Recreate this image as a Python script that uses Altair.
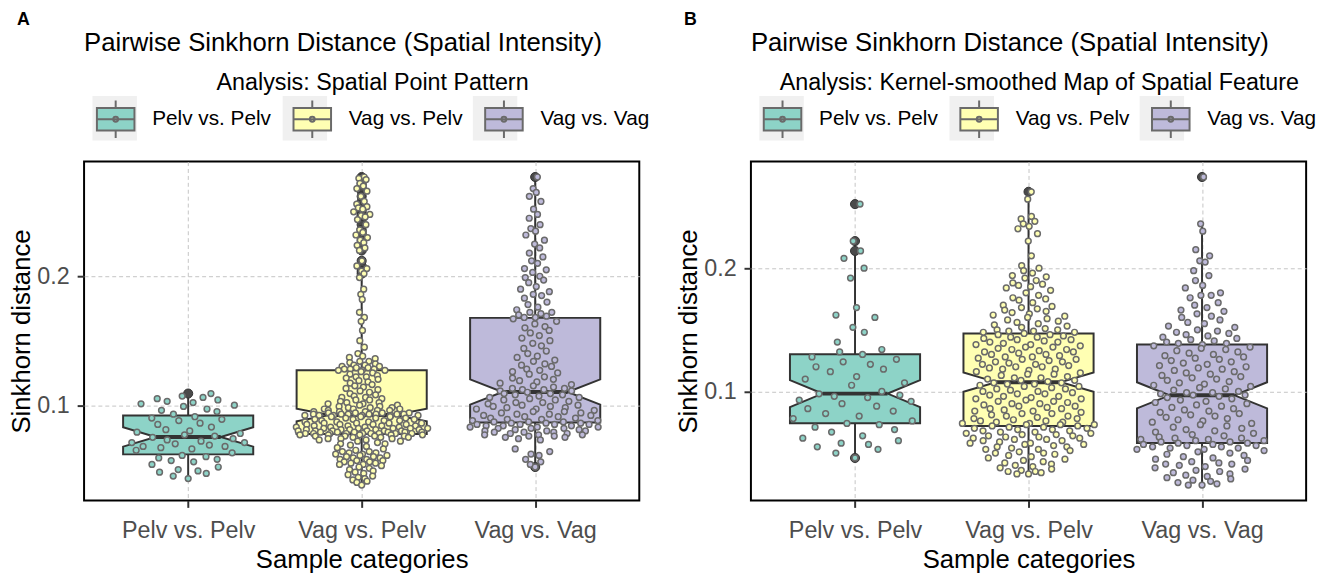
import numpy as np
import pandas as pd
import altair as alt

CATEGORIES = ["Pelv vs. Pelv", "Vag vs. Pelv", "Vag vs. Vag"]
FILLS = ["#8dd3c7", "#ffffb3", "#bebada"]
KEY_BG = "#f0f0f0"
PANEL_TAGS = ["A", "B"]
PANEL_TITLE = "Pairwise Sinkhorn Distance (Spatial Intensity)"
PANEL_SUBTITLES = ["Analysis: Spatial Point Pattern",
                   "Analysis: Kernel-smoothed Map of Spatial Feature"]
X_TITLE = "Sample categories"
Y_TITLE = "Sinkhorn distance"
Y_TICKS = [0.1, 0.2]

# ---- pairwise Sinkhorn distances (in thousandths) ----
A_PELV_PELV = [109, 107, 106, 105, 104, 103, 102, 101, 100, 99, 97, 96, 95, 93,
               91, 90, 89, 88, 86, 85, 83, 81, 80, 79, 78, 77, 76, 75,
               74, 73, 72, 71, 71, 70, 69, 68, 68, 67, 66, 65, 63,
               61, 60, 59, 58, 57, 56, 54, 52, 50, 49, 48, 47, 45, 43]
A_VAG_PELV = [277, 276, 275, 272, 270, 268, 266, 262, 258, 256, 254, 253, 252, 250, 248, 247,
              246, 244, 240, 236, 234, 232, 230, 228, 226, 224, 222, 220, 212, 208, 206, 204, 202,
              199, 190, 186, 182, 172, 168, 165, 158, 150, 145, 140, 138, 136, 134, 137, 134,
              133, 132, 131, 131, 130, 130, 129, 129, 128, 128, 128, 127, 127, 127,
              126, 125, 124, 123, 122, 122, 121, 120, 119, 118, 117, 116, 115, 114, 113, 112,
              111, 110, 109, 108, 107, 106, 106, 105, 104, 104, 103, 102, 102, 101, 101, 100,
              100, 99, 99, 98, 98, 98, 97, 97, 97, 96, 96, 96, 95, 95, 95, 94, 94, 94, 94, 93,
              93, 93, 93, 93, 93, 93, 92, 92, 92, 92, 92,
              92, 91, 91, 91, 90, 90, 90, 89, 89, 89, 88, 88, 88, 87, 87, 87, 86, 86, 86, 86,
              85, 85, 85, 85, 84, 84, 84, 84, 83, 83, 83, 83, 82, 82, 82, 82, 82, 81, 81, 81,
              81, 81, 80, 80, 80, 80, 80, 80, 79, 79, 79, 79, 79, 79, 78, 78, 78, 78, 78, 78,
              78, 78, 78,
              77, 77, 77, 77, 77, 76, 76, 76, 76, 75, 75, 75, 74, 74, 74, 73, 73, 72, 72, 71,
              70, 70, 69, 68, 67, 66, 65, 64, 64, 63, 63, 62, 62, 61, 61, 60, 60, 59, 59, 58,
              58, 57, 57, 56, 56, 55, 55, 54, 54, 53, 52, 51, 50, 49, 48, 47, 46, 45, 44, 43,
              42, 41, 40, 38]
A_VAG_VAG = [277, 268, 265, 262, 258, 252, 248, 245, 240, 237, 235, 232, 228, 225, 222, 218,
             215, 212, 210, 206, 205, 203, 200, 199, 197, 195, 192, 190, 188, 186, 185, 183,
             180, 178, 176, 174, 172, 172, 171, 170, 169, 168, 168,
             167, 165, 163, 161, 160, 158, 156, 154, 152, 150, 148, 146, 144, 142, 140, 138,
             137, 135, 134, 132, 131, 130, 128, 127, 126, 125, 124, 122, 121, 120, 119, 118,
             117, 116, 115, 114, 113, 113, 112, 112, 111, 111, 110,
             109, 109, 108, 108, 107, 106, 106, 105, 104, 104, 103, 102, 102, 101, 100, 100,
             99, 99, 98, 98, 97, 97, 96, 95, 95, 94, 94, 93, 93, 92, 92, 91, 91, 90, 90, 89,
             89, 88, 88, 87, 87, 87,
             86, 86, 86, 85, 85, 85, 85, 84, 84, 84, 83, 83, 83, 82, 82, 82, 81, 81, 80, 80,
             80, 79, 79, 79, 78, 78, 77, 77, 77, 76, 76, 75, 75, 74, 73, 66, 64, 62, 61, 58,
             56, 54, 52]
B_PELV_PELV = [252, 222, 214, 208, 200, 192, 168, 162, 160, 152, 148, 140, 134, 132,
               130, 128, 126, 124, 122, 120, 118, 116, 112, 110, 107, 105, 100, 98,
               97, 96, 95, 93, 92, 90, 88, 86, 84, 82, 80, 78, 76,
               74, 73, 71, 69, 67, 64, 62, 60, 58, 57, 55, 53, 50, 46]
B_VAG_PELV = [262, 256, 242, 240, 238, 236, 234, 232, 228, 222, 210, 202, 200, 198, 196, 194,
              193, 192, 190, 188, 187, 186, 185, 184, 182, 180, 178, 176, 175, 174, 172, 170,
              169, 168, 167, 166, 165, 164, 163, 162, 161, 160, 159, 158, 157, 156, 155, 154,
              153, 152, 151, 150, 150, 149, 149, 148, 148, 147,
              146, 146, 145, 144, 144, 143, 142, 142, 141, 140, 140, 139, 138, 138, 137, 136,
              136, 135, 134, 134, 133, 132, 132, 131, 130, 130, 129, 128, 128, 127, 126, 126,
              125, 124, 124, 123, 122, 122, 121, 120, 120, 119, 118, 118, 117, 116, 115, 114,
              114, 113, 112, 111, 111, 110, 109, 109, 108, 107,
              107, 106, 106, 105, 104, 104, 103, 102, 102, 101, 100, 100, 99, 98, 98, 97, 96,
              96, 95, 94, 94, 93, 92, 92, 91, 90, 90, 89, 88, 88, 87, 86, 86, 85, 84, 84, 83,
              82, 82, 81, 80, 80, 79, 78, 78, 77, 76, 76, 75, 75, 74, 74, 73, 73, 73, 72, 72,
              71, 71, 70, 70, 69, 69, 68, 68, 67, 67, 66, 66, 65, 65, 64, 64, 63, 63, 62, 62,
              61, 61, 60, 60, 59, 58, 58, 57, 57, 56, 55, 55, 54, 53, 53, 52, 51, 50, 50, 49,
              48, 47, 46, 45, 44, 43, 42, 41, 40, 39, 38, 37, 36, 35, 35, 34, 33, 33]
B_VAG_VAG = [274, 236, 230, 215, 210, 206, 205, 198, 194, 190, 186, 184, 180, 178, 178, 176,
             172, 170, 168, 166, 165, 163, 161, 160, 158, 156, 155, 153, 152, 150, 149, 148,
             147, 146, 145, 144, 143, 142, 141, 140, 139, 139, 138,
             137, 136, 135, 134, 133, 132, 131, 130, 129, 128, 127, 126, 125, 124, 123, 122,
             121, 120, 119, 118, 117, 116, 115, 114, 113, 112, 111, 110, 109, 108, 107, 106,
             105, 104, 103, 102, 101, 100, 99, 99, 98, 97, 97,
             96, 95, 94, 93, 92, 91, 90, 89, 88, 87, 86, 85, 84, 83, 82, 81, 80, 79, 78, 77,
             76, 75, 74, 73, 72, 71, 70, 69, 68, 67, 66, 65, 64, 63, 62, 62, 61, 61, 60, 60,
             59, 59,
             58, 58, 57, 57, 56, 56, 55, 55, 54, 54, 53, 53, 52, 51, 50, 49, 48, 47, 46, 45,
             44, 43, 42, 41, 41, 40, 39, 38, 37, 36, 35, 34, 33, 32, 31, 30, 29, 28, 27, 26,
             25, 24, 24]

# ---- notched box statistics ----
A_Q1 = [0.0618, 0.0776, 0.0866]
A_MED = [0.0753, 0.0924, 0.1102]
A_Q3 = [0.0919, 0.1270, 0.1677]
A_LO = [0.0427, 0.0377, 0.0522]
A_HI = [0.1082, 0.1990, 0.2769]
A_NOTCH = [0.0075, 0.0049, 0.0098]
B_Q1 = [0.0742, 0.0720, 0.0582]
B_MED = [0.0982, 0.1075, 0.0968]
B_Q3 = [0.1302, 0.1470, 0.1380]
B_LO = [0.0462, 0.0328, 0.0235]
B_HI = [0.2136, 0.2560, 0.2360]
B_NOTCH = [0.0110, 0.0078, 0.0106]

DARK = "#333333"
FONT = "Liberation Sans"
BOX_HALF = 0.375
NOTCH_INSET = 0.5 * BOX_HALF
PW, PH = 562, 343
KEY_W, BG_W = 38, 45
LEG_X, LEG_Y = 12, -91
LEG_TITLE_SIZE, LEG_TITLE_PAD = 23.6, 4.5
BG_STEP = 192.5  # horizontal distance between key backgrounds

KEY_PATH = ("M-1,-0.6H1V0.6H-1Z M0,-0.6V-1 M0,0.6V1 M-1,0H1 "
            "M0.13,0A0.13,0.13 0 1 1 -0.13,0A0.13,0.13 0 1 1 0.13,0")


def vdc(k):
    v, d = 0.0, 1.0
    while k:
        k, r = divmod(k, 2)
        d *= 2
        v += r / d
    return v


def quasirandom(vals, width=0.4, adjust=0.5):
    """Deterministic quasirandom (van der Corput) offsets scaled by a KDE."""
    y = np.asarray(vals, float)
    n = len(y)
    sd = y.std(ddof=1)
    q75, q25 = np.percentile(y, [75, 25])
    bw = 0.9 * min(sd, (q75 - q25) / 1.34) * n ** -0.2 * adjust
    grid = np.linspace(y.min() - 3 * bw, y.max() + 3 * bw, 512)

    def dens(t):
        return np.exp(-0.5 * ((t[:, None] - y[None, :]) / bw) ** 2).sum(1)

    d = dens(y) / dens(grid).max()
    rank = np.argsort(np.argsort(y, kind="stable"), kind="stable")
    seq = np.array([vdc(k + 1) for k in range(n)])
    return (seq[rank] * 2 - 1) * width * d


def panel(tag, subtitle, groups, stats):
    q1, med, q3, lo, hi, notch = stats
    allv = [v / 1000 for g in groups for v in g]
    vmin, vmax = min(allv), max(allv)
    pad = 0.05 * (vmax - vmin)
    ydom = [vmin - pad, vmax + pad]

    pts, outs, area, meds, whisk = [], [], [], [], []
    for i, (cat, g) in enumerate(zip(CATEGORIES, groups)):
        c = i + 1
        v = np.array(g, float) / 1000
        off = quasirandom(v)
        for vv, oo in zip(v, off):
            pts.append(dict(cat=cat, col=FILLS[i], xp=c + oo, v=vv))
            if vv > hi[i] + 1e-9 or vv < lo[i] - 1e-9:
                outs.append(dict(cat=cat, xo=c, v=vv))
        L, R = c - BOX_HALF, c + BOX_HALF
        ys = [q1[i], med[i] - notch[i], med[i], med[i] + notch[i], q3[i]]
        ls = [L, L, L + NOTCH_INSET, L, L]
        rs = [R, R, R - NOTCH_INSET, R, R]
        for yy, ll, rr in zip(ys, ls, rs):
            area.append(dict(cat=cat, yv=yy, l=ll, r=rr))
        meds.append(dict(cat=cat, m1=L + NOTCH_INSET, m2=R - NOTCH_INSET, my=med[i]))
        whisk.append(dict(cat=cat, wx=c, w1=q3[i], w2=hi[i]))
        whisk.append(dict(cat=cat, wx=c, w1=lo[i], w2=q1[i]))

    xs = alt.Scale(domain=[0.4, 3.6], nice=False, zero=False)
    ysc = alt.Scale(domain=ydom, nice=False, zero=False)
    expr = " : ".join(f"datum.value == {i + 1} ? '{c}'" for i, c in enumerate(CATEGORIES)) + " : ''"
    xaxis = alt.Axis(values=[1, 2, 3], labelExpr=expr, title=X_TITLE, grid=True,
                     gridDash=[4, 3], gridColor="#c4c4c4", gridWidth=1, domain=False,
                     tickColor=DARK, tickWidth=2, tickSize=7, labelFontSize=23.6,
                     labelColor="#4d4d4d", labelPadding=11, titleFontSize=26,
                     titleFontWeight="normal", titleColor="black", titlePadding=5,
                     labelFont=FONT, titleFont=FONT)
    yaxis = alt.Axis(values=Y_TICKS, format=".1f", title=Y_TITLE, grid=True,
                     gridDash=[4, 3], gridColor="#c4c4c4", gridWidth=1, domain=False,
                     tickColor=DARK, tickWidth=2, tickSize=7, labelFontSize=23.6,
                     labelColor="#4d4d4d", labelPadding=8, titleFontSize=26,
                     titleFontWeight="normal", titleColor="black", titlePadding=2,
                     labelFont=FONT, titleFont=FONT)

    legend = alt.Legend(title=subtitle, orient="none", legendX=LEG_X, legendY=LEG_Y,
                        direction="horizontal", titleAnchor="middle", titleOrient="top",
                        titleFontSize=LEG_TITLE_SIZE, titleFontWeight="normal",
                        titleFont=FONT, titlePadding=LEG_TITLE_PAD, titleColor="black",
                        titleLimit=1000, labelLimit=400, labelFont=FONT, labelFontSize=21,
                        labelColor="black", labelOffset=17, columnPadding=18,
                        symbolType=KEY_PATH, symbolSize=KEY_W * KEY_W,
                        symbolStrokeColor=DARK, symbolStrokeWidth=2, symbolOpacity=1,
                        padding=0)

    # light grey key backgrounds: a label-less legend drawn beneath the key glyphs
    bg_ids = [f"k{i}" for i in range(len(CATEGORIES))]
    bg_legend = alt.Legend(title=None, orient="none", direction="horizontal",
                           legendX=LEG_X - (BG_W - KEY_W) / 2,
                           legendY=LEG_Y + LEG_TITLE_SIZE + LEG_TITLE_PAD - (BG_W - KEY_W) / 2,
                           labelExpr="''", labelOffset=0, columnPadding=BG_STEP - BG_W,
                           gridAlign="all", symbolType="square", symbolSize=BG_W * BG_W,
                           symbolStrokeWidth=0, symbolOpacity=1, padding=0)
    bg = alt.Chart(pd.DataFrame({"bg": pd.Series([], dtype=str),
                                 "bx": pd.Series([], dtype=float),
                                 "by": pd.Series([], dtype=float)})).mark_point(
        filled=True, shape="square").encode(
        x=alt.X("bx:Q", scale=xs, axis=xaxis), y=alt.Y("by:Q", scale=ysc, axis=yaxis),
        color=alt.Color("bg:N", scale=alt.Scale(domain=bg_ids, range=[KEY_BG] * len(bg_ids)),
                        legend=bg_legend))

    w = alt.Chart(pd.DataFrame(whisk)).mark_rule(color=DARK, strokeWidth=2).encode(
        x=alt.X("wx:Q", scale=xs, axis=xaxis),
        y=alt.Y("w1:Q", scale=ysc, axis=yaxis), y2="w2:Q")
    a = alt.Chart(pd.DataFrame(area)).mark_area(
        orient="horizontal", opacity=1, fillOpacity=1, stroke=DARK, strokeWidth=2).encode(
        x=alt.X("l:Q", scale=xs, axis=xaxis, stack=None), x2="r:Q",
        y=alt.Y("yv:Q", scale=ysc, axis=yaxis),
        fill=alt.Fill("cat:N", scale=alt.Scale(domain=CATEGORIES, range=FILLS), legend=legend))
    m = alt.Chart(pd.DataFrame(meds)).mark_rule(color=DARK, strokeWidth=4).encode(
        x=alt.X("m1:Q", scale=xs, axis=xaxis), x2="m2:Q",
        y=alt.Y("my:Q", scale=ysc, axis=yaxis))
    layers = [bg, w, a, m]
    if outs:
        o = alt.Chart(pd.DataFrame(outs)).mark_circle(
            size=85, color="#4a4a4a", stroke=DARK, strokeWidth=1, opacity=1).encode(
            x=alt.X("xo:Q", scale=xs, axis=xaxis), y=alt.Y("v:Q", scale=ysc, axis=yaxis))
        layers.append(o)
    p = alt.Chart(pd.DataFrame(pts)).mark_circle(
        size=34, stroke="#6a6a6a", strokeWidth=1.5, opacity=1).encode(
        x=alt.X("xp:Q", scale=xs, axis=xaxis), y=alt.Y("v:Q", scale=ysc, axis=yaxis),
        fill=alt.Fill("col:N", scale=None))
    layers.append(p)

    lay = alt.layer(*layers).properties(
        width=PW, height=PH,
        title=alt.TitleParams(PANEL_TITLE, anchor="start", frame="group", fontSize=26,
                              fontWeight="normal", font=FONT, color="black", offset=107))
    return alt.vconcat(lay, title=alt.TitleParams(tag, anchor="start", fontSize=18,
                                                  fontWeight="bold", font=FONT, color="black",
                                                  dx=9, offset=0))


pa = panel(PANEL_TAGS[0], PANEL_SUBTITLES[0], [A_PELV_PELV, A_VAG_PELV, A_VAG_VAG],
           [A_Q1, A_MED, A_Q3, A_LO, A_HI, A_NOTCH])
pb = panel(PANEL_TAGS[1], PANEL_SUBTITLES[1], [B_PELV_PELV, B_VAG_PELV, B_VAG_VAG],
           [B_Q1, B_MED, B_Q3, B_LO, B_HI, B_NOTCH])

chart = alt.hconcat(pa, pb, spacing=25, padding=0).resolve_scale(
    x="independent", y="independent", fill="independent", color="independent").resolve_legend(
    fill="independent", color="independent").configure(font=FONT).configure_view(
    stroke="black", strokeWidth=2)

chart.save("out.html", embed_options={"renderer": "svg", "actions": False})
